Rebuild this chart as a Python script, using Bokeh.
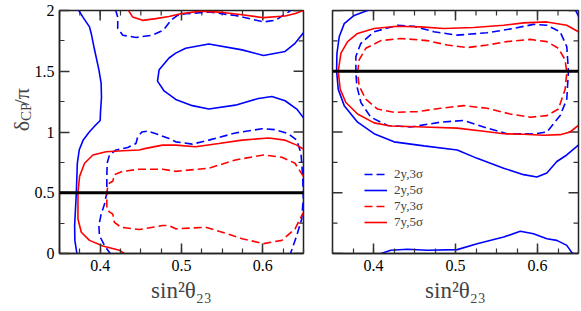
import numpy as np
from bokeh.plotting import figure
from bokeh.models import LinearAxis, FixedTicker, Span, Label, Legend, LegendItem, Range1d
from bokeh.layouts import row
from bokeh.embed import file_html
from bokeh.resources import INLINE

# ---------------- data ----------------
x_major = [0.4, 0.5, 0.6]
x_minor = [0.35, 0.375, 0.4, 0.425, 0.45, 0.475, 0.5, 0.525, 0.55, 0.575, 0.6, 0.625, 0.65]
y_major = [0.0, 0.5, 1.0, 1.5, 2.0]
y_labels = ["0", "0.5", "1", "1.5", "2"]
y_minor = [0.25, 0.75, 1.25, 1.75]
true_delta_left = 0.5
true_delta_right = 1.5
legend_labels = ["2y,3σ", "2y,5σ", "7y,3σ", "7y,5σ"]
x_title = "sin²θ₂₃"
y_title_parts = ["δ", "CP", "/π"]

# Left panel contours
L_b5_a_x = [0.3727, 0.3792, 0.3869, 0.3890, 0.3927, 0.3984, 0.4012, 0.4016, 0.4004, 0.4000, 0.3939, 0.3866,
            0.3792, 0.3743, 0.3719, 0.3707, 0.3686, 0.3689, 0.3716]
L_b5_a_y = [2.01, 1.941, 1.865, 1.811, 1.689, 1.513, 1.402, 1.284, 1.162, 1.095, 1.053, 1.0,
            0.935, 0.854, 0.741, 0.5, 0.23, 0.108, -0.01]
L_b5_b_x = [0.651, 0.6396, 0.6274, 0.6009, 0.5745, 0.5336, 0.5051, 0.4929, 0.4847, 0.4725, 0.4705, 0.4786,
            0.4929, 0.5133, 0.5336, 0.5663, 0.5947, 0.6111, 0.6274, 0.6417, 0.651]
L_b5_b_y = [1.825, 1.730, 1.663, 1.630, 1.676, 1.724, 1.689, 1.649, 1.609, 1.513, 1.419, 1.338,
            1.268, 1.217, 1.189, 1.221, 1.276, 1.292, 1.257, 1.189, 1.108]
L_b3_main_x = [0.4134, 0.4053, 0.3991, 0.3984, 0.4012, 0.4053, 0.4082, 0.4082, 0.4086, 0.4114, 0.4196, 0.4339,
               0.4440, 0.4461, 0.4513, 0.4583, 0.4685, 0.4847, 0.4929, 0.5133, 0.5336, 0.5663, 0.5989, 0.6152,
               0.6314, 0.6417, 0.6469, 0.6490, 0.6498, 0.6478, 0.6417, 0.6335]
L_b3_main_y = [-0.01, 0.067, 0.148, 0.230, 0.324, 0.405, 0.5, 0.635, 0.743, 0.811, 0.852, 0.873,
               0.905, 0.959, 1.0, 1.008, 0.986, 0.946, 0.919, 0.900, 0.933, 0.992, 1.027, 1.019,
               0.986, 0.933, 0.824, 0.635, 0.459, 0.284, 0.148, -0.01]
L_b3_top_x = [0.4187, 0.4216, 0.4216, 0.4278, 0.4440, 0.4644, 0.4780, 0.4870, 0.4950, 0.5051, 0.5336, 0.5663,
              0.6009, 0.6152, 0.6314, 0.6360]
L_b3_top_y = [2.01, 1.946, 1.852, 1.797, 1.778, 1.797, 1.840, 1.920, 1.960, 1.973, 1.987, 1.959,
              1.906, 1.919, 1.987, 2.01]
L_r5_main_x = [0.6498, 0.6417, 0.6274, 0.6070, 0.5745, 0.5458, 0.5174, 0.4929, 0.4767, 0.4562, 0.4480, 0.4278,
               0.4073, 0.3911, 0.3808, 0.3747, 0.3727, 0.3727, 0.3768, 0.3869, 0.4033, 0.4236, 0.4318]
L_r5_main_y = [0.86, 0.892, 0.933, 0.951, 0.933, 0.905, 0.878, 0.892, 0.892, 0.865, 0.852, 0.846,
               0.838, 0.811, 0.743, 0.635, 0.5, 0.284, 0.175, 0.108, 0.062, 0.027, -0.01]
L_r5_top_x = [0.4339, 0.4400, 0.4522, 0.4685, 0.4847, 0.4990, 0.5235, 0.5458, 0.5745, 0.6009, 0.6274, 0.6400, 0.6497]
L_r5_top_y = [2.01, 1.946, 1.919, 1.933, 1.951, 1.973, 1.995, 1.987, 1.965, 1.941, 1.955, 1.975, 2.0]
L_r3_x = [0.6498, 0.6396, 0.6233, 0.6009, 0.5663, 0.5336, 0.4929, 0.4767, 0.4480, 0.4278, 0.4175, 0.4155,
          0.4114, 0.4094, 0.4082, 0.4082, 0.4114, 0.4155, 0.4175, 0.4257, 0.4480, 0.4767, 0.4847, 0.4929,
          0.5296, 0.5500, 0.5745, 0.6009, 0.6233, 0.6396, 0.6498]
L_r3_y = [0.635, 0.743, 0.792, 0.811, 0.770, 0.702, 0.676, 0.694, 0.694, 0.676, 0.649, 0.594,
          0.581, 0.554, 0.5, 0.365, 0.343, 0.324, 0.256, 0.216, 0.197, 0.230, 0.230, 0.203,
          0.216, 0.175, 0.122, 0.081, 0.108, 0.203, 0.337]

# Right panel contours
R_b5_a_x = [0.3967, 0.3764, 0.3643, 0.3582, 0.3554, 0.3550, 0.3570, 0.3643, 0.3806, 0.4007, 0.4250, 0.4615,
            0.5021, 0.5264, 0.5587, 0.5830, 0.5993, 0.6114, 0.6236, 0.6357, 0.6498]
R_b5_a_y = [2.01, 1.959, 1.892, 1.784, 1.646, 1.5, 1.351, 1.217, 1.081, 0.986, 0.919, 0.886,
            0.852, 0.783, 0.702, 0.649, 0.629, 0.662, 0.757, 0.811, 0.892]
R_b5_b_x = [0.4049, 0.4210, 0.4413, 0.4656, 0.5021, 0.5264, 0.5587, 0.5790, 0.5951, 0.6114, 0.6236, 0.6357, 0.6437]
R_b5_b_y = [-0.01, 0.027, 0.035, 0.027, 0.032, 0.081, 0.135, 0.183, 0.162, 0.122, 0.108, 0.067, -0.01]
R_b5_c_x = [0.6458, 0.6480, 0.6510]
R_b5_c_y = [2.01, 1.98, 1.94]
R_r5_x = [0.6498, 0.6357, 0.6114, 0.5830, 0.5587, 0.5222, 0.4858, 0.4575, 0.4292, 0.4007, 0.3806, 0.3684,
          0.3603, 0.3570, 0.3594, 0.3663, 0.3806, 0.4007, 0.4210, 0.4615, 0.5021, 0.5344, 0.5587, 0.5830,
          0.6073, 0.6276, 0.6397, 0.6498]
R_r5_y = [1.825, 1.878, 1.906, 1.898, 1.878, 1.860, 1.852, 1.865, 1.870, 1.852, 1.811, 1.744,
          1.649, 1.5, 1.351, 1.243, 1.148, 1.075, 1.049, 1.041, 1.032, 1.006, 0.986, 0.981,
          0.973, 0.978, 1.0, 1.054]
R_b3_x = [0.3785, 0.3785, 0.3846, 0.4007, 0.4292, 0.4493, 0.4736, 0.5021, 0.5385, 0.5708, 0.5951, 0.6114,
          0.6276, 0.6357, 0.6377, 0.6357, 0.6276, 0.6114, 0.5951, 0.5628, 0.5385, 0.5100, 0.4818, 0.4453,
          0.4170, 0.3967, 0.3846, 0.3797]
R_b3_y = [1.487, 1.622, 1.730, 1.825, 1.878, 1.870, 1.825, 1.797, 1.817, 1.852, 1.886, 1.878,
          1.825, 1.703, 1.5, 1.270, 1.135, 1.0, 0.984, 0.986, 1.032, 1.095, 1.081, 1.041,
          1.054, 1.122, 1.243, 1.379]
R_r3_x = [0.3806, 0.3825, 0.3906, 0.4089, 0.4332, 0.4656, 0.4899, 0.5142, 0.5385, 0.5628, 0.5911, 0.6114,
          0.6255, 0.6337, 0.6357, 0.6337, 0.6255, 0.6114, 0.5911, 0.5668, 0.5385, 0.5100, 0.4818, 0.4535,
          0.4250, 0.4049, 0.3906, 0.3825]
R_r3_y = [1.487, 1.594, 1.689, 1.752, 1.770, 1.752, 1.716, 1.695, 1.716, 1.744, 1.762, 1.744,
          1.689, 1.594, 1.487, 1.351, 1.189, 1.135, 1.122, 1.148, 1.195, 1.217, 1.195, 1.168,
          1.162, 1.189, 1.270, 1.379]

# ---------------- styling ----------------
SERIF = "Liberation Serif"
BLUE = "#0000ff"
RED = "#ff0000"
DASH = "8 4"
LW = 1.6
FRAME_W, FRAME_H = 246, 243
TOP, BOTTOM = 10, 57
TOTAL_H = TOP + FRAME_H + BOTTOM
X0, X1, Y0, Y1 = 0.35, 0.65, 0.0, 2.0
PX_X = FRAME_W / (X1 - X0)
PX_Y = FRAME_H / (Y1 - Y0)
TICK_COLOR = "#333333"
MAJ_LEN, MIN_LEN = 10, 5


def closed(a):
    return list(a) + [a[0]]


def style_axis(ax, ticks, minor, overrides=None):
    ax.ticker = FixedTicker(ticks=ticks, minor_ticks=minor)
    ax.major_tick_in = MAJ_LEN
    ax.major_tick_out = 0
    ax.minor_tick_in = MIN_LEN
    ax.minor_tick_out = 0
    ax.major_tick_line_color = TICK_COLOR
    ax.minor_tick_line_color = TICK_COLOR
    ax.major_tick_line_width = 1.5
    ax.minor_tick_line_width = 1.2
    ax.axis_line_color = "#222222"
    ax.axis_line_width = 1.5
    ax.major_label_text_font = SERIF
    ax.major_label_text_font_size = "16px"
    ax.major_label_text_color = "black"
    ax.major_label_standoff = 5
    if overrides:
        ax.major_label_overrides = overrides


def tick_segments(p, side):
    """Inward tick marks (no labels) on a frame side, built from the tick arrays."""
    sets = ((x_major, MAJ_LEN, 1.5), (x_minor, MIN_LEN, 1.2)) if side == "top" else \
           ((y_major, MAJ_LEN, 1.5), (y_minor, MIN_LEN, 1.2))
    for ticks, length, w in sets:
        t = np.array(ticks, dtype=float)
        if side == "top":
            p.segment(x0=t, y0=np.full_like(t, Y1), x1=t, y1=np.full_like(t, Y1 - length / PX_Y),
                      line_color=TICK_COLOR, line_width=w)
        elif side == "right":
            p.segment(x0=np.full_like(t, X1), y0=t, x1=np.full_like(t, X1 - length / PX_X), y1=t,
                      line_color=TICK_COLOR, line_width=w)
        else:
            p.segment(x0=np.full_like(t, X0), y0=t, x1=np.full_like(t, X0 + length / PX_X), y1=t,
                      line_color=TICK_COLOR, line_width=w)


def make_fig(border_left, border_right, with_yaxis):
    p = figure(width=border_left + FRAME_W + border_right, height=TOTAL_H,
               x_range=Range1d(X0, X1), y_range=Range1d(Y0, Y1),
               output_backend="svg", toolbar_location=None,
               x_axis_location=None, y_axis_location=None,
               min_border_left=border_left, min_border_right=border_right,
               min_border_top=TOP, min_border_bottom=BOTTOM)
    p.xgrid.visible = False
    p.ygrid.visible = False
    p.outline_line_color = "#222222"
    p.outline_line_width = 1.5
    p.background_fill_color = "white"
    p.border_fill_alpha = 0

    xb = LinearAxis()
    style_axis(xb, x_major, x_minor)
    xb.major_label_standoff = 6
    xb.axis_label = x_title
    xb.axis_label_text_font = SERIF
    xb.axis_label_text_font_size = "23px"
    xb.axis_label_text_font_style = "normal"
    xb.axis_label_standoff = 4
    p.add_layout(xb, "below")

    if with_yaxis:
        yl = LinearAxis()
        style_axis(yl, y_major, y_minor, dict(zip(y_major, y_labels)))
        p.add_layout(yl, "left")
    else:
        tick_segments(p, "left")
    tick_segments(p, "top")
    tick_segments(p, "right")
    return p


# ---------------- y-axis title column ----------------
TITLE_VISIBLE_W = 31
TITLE_W = 46   # wider canvas, overlapped by the left panel's transparent border
pt = figure(width=TITLE_W, height=TOTAL_H,
            x_range=Range1d(0, TITLE_W), y_range=Range1d(0, TOTAL_H),
            output_backend="svg", toolbar_location=None,
            x_axis_location=None, y_axis_location=None,
            min_border_left=0, min_border_right=0, min_border_top=0, min_border_bottom=0,
            margin=(0, TITLE_VISIBLE_W - TITLE_W, 0, 0))
pt.xgrid.visible = False
pt.ygrid.visible = False
pt.outline_line_color = None
pt.background_fill_alpha = 0
pt.border_fill_alpha = 0
# positions in pixels of this narrow column (y measured from its bottom)
pt.add_layout(Label(x=21, y=TOTAL_H - 154, text=y_title_parts[0], angle=np.pi / 2, angle_units="rad",
                    text_font=SERIF, text_font_size="22px", text_align="left", text_baseline="alphabetic"))
pt.add_layout(Label(x=25, y=TOTAL_H - 141, text=y_title_parts[1], angle=np.pi / 2, angle_units="rad",
                    text_font=SERIF, text_font_size="15px", text_align="left", text_baseline="alphabetic"))
pt.add_layout(Label(x=21, y=TOTAL_H - 121, text=y_title_parts[2], angle=np.pi / 2, angle_units="rad",
                    text_font=SERIF, text_font_size="22px", text_align="left", text_baseline="alphabetic"))

# ---------------- left panel ----------------
pl = make_fig(57 - TITLE_VISIBLE_W, 15, True)
pl.multi_line(xs=[L_b5_a_x, L_b5_b_x], ys=[L_b5_a_y, L_b5_b_y], line_color=BLUE, line_width=LW)
pl.multi_line(xs=[L_b3_main_x, L_b3_top_x], ys=[L_b3_main_y, L_b3_top_y], line_color=BLUE,
              line_width=LW, line_dash=DASH)
pl.multi_line(xs=[L_r5_main_x, L_r5_top_x], ys=[L_r5_main_y, L_r5_top_y], line_color=RED, line_width=LW)
pl.multi_line(xs=[L_r3_x], ys=[L_r3_y], line_color=RED, line_width=LW, line_dash=DASH)
pl.add_layout(Span(location=true_delta_left, dimension="width", line_color="black", line_width=3))

# ---------------- right panel ----------------
pr = make_fig(14, 2, False)
r_b3 = pr.line(closed(R_b3_x), closed(R_b3_y), line_color=BLUE, line_width=LW, line_dash=DASH)
r_b5 = pr.multi_line(xs=[R_b5_a_x, R_b5_b_x, R_b5_c_x], ys=[R_b5_a_y, R_b5_b_y, R_b5_c_y],
                     line_color=BLUE, line_width=LW)
r_r3 = pr.line(closed(R_r3_x), closed(R_r3_y), line_color=RED, line_width=LW, line_dash=DASH)
r_r5 = pr.line(R_r5_x, R_r5_y, line_color=RED, line_width=LW)
pr.add_layout(Span(location=true_delta_right, dimension="width", line_color="black", line_width=3))

legend = Legend(items=[LegendItem(label=legend_labels[0], renderers=[r_b3]),
                       LegendItem(label=legend_labels[1], renderers=[r_b5]),
                       LegendItem(label=legend_labels[2], renderers=[r_r3]),
                       LegendItem(label=legend_labels[3], renderers=[r_r5])],
                location=(32, 23), padding=0, margin=0, spacing=0,
                glyph_width=23, glyph_height=16, label_height=16, label_standoff=7,
                label_text_font=SERIF, label_text_font_size="13px",
                border_line_alpha=0, background_fill_alpha=0)
pr.add_layout(legend)

layout = row(pt, pl, pr)
open("out.html", "w").write(file_html(layout, INLINE))
